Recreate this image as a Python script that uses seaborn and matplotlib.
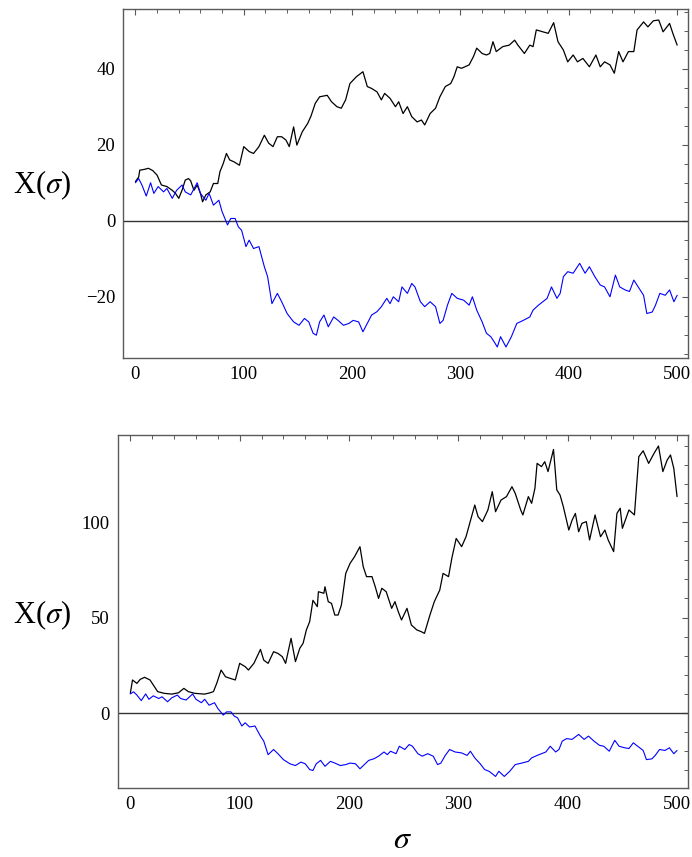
import matplotlib
matplotlib.use("Agg")
import matplotlib.pyplot as plt
import seaborn as sns
import pandas as pd
from matplotlib.ticker import MultipleLocator, FuncFormatter

# ---- data ----
sigma_top_black = [0, 3, 4, 8, 12, 16, 20, 24, 29, 34, 37, 40, 43, 46, 49, 51, 54, 57, 60, 62, 65, 69, 72, 76, 78,
                   81, 84, 87, 91, 96, 100, 105, 109, 114, 119, 123, 127, 131, 135, 139, 142, 146, 149, 154, 159,
                   162, 166, 170, 177, 181, 186, 190, 194, 198, 204, 210, 214, 218, 223, 227, 230, 235, 240, 243,
                   247, 251, 255, 260, 264, 267, 272, 277, 281, 286, 291, 294, 297, 301, 308, 312, 315, 320, 324,
                   327, 330, 333, 339, 345, 350, 353, 359, 364, 367, 370, 376, 381, 386, 390, 395, 399, 404, 408,
                   413, 419, 425, 429, 433, 438, 442, 446, 450, 455, 460, 463, 469, 473, 478, 483, 487, 493, 496, 500]
x_top_black = [10.3, 11.5, 13.3, 13.5, 13.8, 13.2, 12.0, 9.4, 9.0, 8.0, 7.2, 5.9, 8.0, 10.7, 11.1, 10.5, 8.0, 9.4,
               7.2, 5.0, 6.8, 7.6, 9.8, 9.8, 12.9, 15.0, 17.7, 16.0, 15.5, 14.6, 19.5, 18.2, 17.7, 19.5, 22.5, 20.4,
               19.5, 22.1, 22.1, 21.2, 19.5, 24.7, 19.9, 23.4, 25.6, 27.5, 30.9, 32.6, 33.0, 31.3, 30.0, 29.6, 31.8,
               36.1, 37.9, 39.2, 35.3, 34.8, 33.9, 31.8, 33.5, 32.2, 30.0, 31.3, 28.2, 30.0, 27.4, 26.0, 26.5, 25.2,
               28.2, 29.6, 32.6, 35.3, 36.1, 37.9, 40.5, 40.1, 41.0, 43.2, 45.4, 44.0, 43.6, 44.0, 47.1, 44.5, 45.8,
               46.2, 47.5, 46.2, 44.0, 46.2, 45.8, 50.2, 49.7, 49.3, 52.1, 47.1, 44.9, 41.8, 43.6, 41.8, 42.7, 40.5,
               43.6, 40.5, 41.8, 41.0, 38.8, 44.5, 41.8, 44.5, 44.5, 50.2, 52.3, 51.0, 52.6, 52.8, 49.7, 51.9, 49.3,
               46.2]

sigma_blue = [0, 3, 6, 10, 14, 17, 21, 26, 29, 34, 38, 43, 46, 51, 57, 60, 65, 68, 72, 77, 80, 85, 88, 92, 95, 98,
              102, 105, 109, 114, 119, 122, 126, 131, 135, 140, 146, 151, 156, 160, 164, 167, 170, 174, 178, 183,
              187, 192, 197, 201, 206, 210, 214, 218, 223, 227, 232, 235, 238, 243, 246, 251, 255, 258, 263, 267,
              272, 277, 281, 284, 288, 292, 297, 303, 308, 311, 315, 320, 324, 328, 331, 334, 337, 342, 347, 352,
              358, 364, 367, 372, 376, 380, 384, 389, 392, 395, 399, 404, 410, 415, 419, 424, 429, 433, 438, 443,
              447, 452, 456, 460, 464, 469, 472, 477, 480, 484, 489, 493, 497, 500]
x_blue = [10.0, 11.1, 9.4, 6.5, 10.0, 7.2, 9.0, 7.6, 8.5, 5.9, 8.0, 9.4, 7.6, 6.8, 10.0, 7.2, 5.4, 7.2, 4.1, 5.4,
          2.4, -1.1, 0.6, 0.6, -1.6, -2.5, -6.8, -5.1, -7.3, -6.8, -12.1, -14.7, -21.8, -19.1, -21.3, -24.4,
          -26.6, -27.5, -25.7, -26.6, -29.6, -30.1, -26.6, -24.8, -27.9, -25.3, -26.2, -27.5, -27.0, -26.2,
          -26.6, -29.2, -27.0, -24.8, -23.9, -22.6, -20.4, -21.8, -20.0, -21.3, -17.4, -19.1, -16.5, -17.4,
          -21.3, -22.6, -21.3, -22.6, -27.0, -26.2, -22.2, -19.1, -20.4, -20.9, -22.2, -20.0, -23.5, -26.6,
          -29.6, -30.5, -31.8, -33.2, -30.5, -33.2, -30.5, -27.0, -26.2, -25.3, -23.5, -22.2, -21.3, -20.4,
          -17.4, -20.4, -19.1, -14.7, -13.4, -13.8, -11.2, -13.8, -12.1, -14.7, -16.9, -17.4, -20.0, -14.3,
          -17.4, -18.2, -18.6, -15.6, -17.4, -19.6, -24.4, -24.0, -22.2, -19.1, -19.6, -18.2, -21.3, -19.6]

sigma_bot_black = [0, 2, 6, 9, 13, 18, 21, 25, 31, 38, 44, 49, 53, 59, 68, 73, 76, 79, 83, 87, 91, 96, 100, 105,
                   108, 113, 119, 122, 126, 131, 135, 139, 142, 147, 151, 155, 158, 161, 164, 167, 171, 172, 177,
                   178, 181, 184, 187, 190, 193, 197, 201, 205, 210, 213, 216, 221, 224, 227, 230, 234, 239, 242,
                   245, 248, 253, 257, 262, 266, 269, 274, 278, 283, 286, 291, 294, 298, 303, 307, 312, 315, 318,
                   322, 327, 331, 334, 339, 344, 349, 352, 357, 359, 364, 367, 370, 372, 376, 379, 382, 387, 390,
                   393, 396, 401, 404, 407, 410, 413, 417, 420, 425, 430, 434, 437, 442, 445, 448, 450, 456, 461,
                   465, 469, 474, 479, 483, 487, 491, 494, 497, 500]
x_bot_black = [10.3, 17.3, 15.5, 17.6, 18.7, 17.3, 14.7, 11.2, 10.3, 9.9, 10.6, 12.9, 11.2, 10.3, 9.9, 10.6, 11.2,
               15.5, 22.5, 19.0, 18.2, 17.3, 26.0, 24.3, 22.5, 26.0, 33.3, 27.7, 26.0, 32.1, 31.2, 29.5, 26.0, 39.1,
               26.9, 33.9, 36.5, 43.5, 47.8, 59.0, 55.7, 63.5, 62.7, 66.1, 58.3, 57.4, 51.3, 51.3, 56.5, 73.1, 78.4,
               81.8, 87.1, 76.6, 71.4, 71.4, 66.1, 60.0, 65.3, 63.5, 54.8, 58.3, 53.1, 48.7, 54.8, 46.1, 43.5, 42.6,
               41.7, 51.3, 58.3, 64.4, 73.1, 71.4, 81.0, 91.4, 87.1, 92.3, 102.8, 108.9, 102.8, 100.2, 106.3, 115.9,
               105.4, 111.5, 113.3, 118.5, 115.0, 106.3, 103.7, 113.3, 109.8, 117.6, 130.7, 129.0, 131.6, 126.4,
               138.0, 116.8, 114.1, 108.0, 95.8, 101.0, 104.5, 94.9, 99.3, 100.2, 90.6, 103.7, 92.3, 95.8, 90.6,
               84.5, 104.5, 107.2, 96.7, 106.3, 103.7, 134.2, 137.3, 130.7, 136.0, 139.8, 126.4, 132.5, 135.1,
               128.1, 113.3]

top_yticks_major = [-20, 0, 20, 40]
bot_yticks_major = [0, 50, 100]
xticks_major = [0, 100, 200, 300, 400, 500]

# ---- styling ----
sns.set_style("white")
plt.rcParams["font.family"] = ["Liberation Serif", "DejaVu Serif"]
plt.rcParams["mathtext.fontset"] = "stix"
plt.rcParams["text.color"] = "black"
plt.rcParams["axes.labelcolor"] = "black"
plt.rcParams["xtick.color"] = "black"
plt.rcParams["ytick.color"] = "black"

fig = plt.figure(figsize=(6.92, 8.57), dpi=100)
ax1 = fig.add_axes([123.5 / 692, 1 - 358 / 857, (688 - 123.5) / 692, (358 - 9) / 857])
ax2 = fig.add_axes([118.3 / 692, 1 - 787.7 / 857, (688 - 118.3) / 692, (787.7 - 435.3) / 857])

df_tb = pd.DataFrame({"s": sigma_top_black, "x": x_top_black})
df_bl = pd.DataFrame({"s": sigma_blue, "x": x_blue})
df_bb = pd.DataFrame({"s": sigma_bot_black, "x": x_bot_black})

frame_col = "#5a5a5a"


def minus_fmt(v, pos):
    s = f"{v:g}"
    return s.replace("-", "\u2212")


def style(ax, ymin, ymax, ymin_step, yticks):
    ax.axhline(0, color="#333333", lw=1.0, zorder=1)
    ax.set_xlim(-11, 510)
    ax.set_ylim(ymin, ymax)
    ax.set_xticks(xticks_major)
    ax.xaxis.set_minor_locator(MultipleLocator(20))
    ax.set_yticks(yticks)
    ax.yaxis.set_minor_locator(MultipleLocator(ymin_step))
    ax.yaxis.set_major_formatter(FuncFormatter(minus_fmt))
    ax.tick_params(which="both", direction="in", top=True, right=True, color=frame_col,
                   labelsize=13.5, pad=6, labelcolor="black")
    ax.tick_params(which="major", length=4.5, width=0.8)
    ax.tick_params(which="minor", length=2.6, width=0.7)
    for sp in ax.spines.values():
        sp.set_color(frame_col)
        sp.set_linewidth(1.0)
    ax.set_xlabel("")
    ax.set_ylabel("")


sns.lineplot(data=df_tb, x="s", y="x", ax=ax1, color="black", lw=0.9, estimator=None, zorder=3)
sns.lineplot(data=df_bl, x="s", y="x", ax=ax1, color="#0000ff", lw=0.8, estimator=None, zorder=3)
style(ax1, -36.1, 55.7, 5, top_yticks_major)

sns.lineplot(data=df_bb, x="s", y="x", ax=ax2, color="black", lw=0.9, estimator=None, zorder=3)
sns.lineplot(data=df_bl, x="s", y="x", ax=ax2, color="#0000ff", lw=0.8, estimator=None, zorder=3)
style(ax2, -39.1, 145.4, 10, bot_yticks_major)

ax1.text(-0.145, 0.496, r"X($\sigma$)", transform=ax1.transAxes, fontsize=22,
         ha="center", va="center", color="black")
ax2.text(-0.134, 0.49, r"X($\sigma$)", transform=ax2.transAxes, fontsize=22,
         ha="center", va="center", color="black")
ax2.text(0.498, -0.15, r"$\sigma$", transform=ax2.transAxes, fontsize=23,
         ha="center", va="center", color="black")

fig.savefig("out.png", dpi=100)
